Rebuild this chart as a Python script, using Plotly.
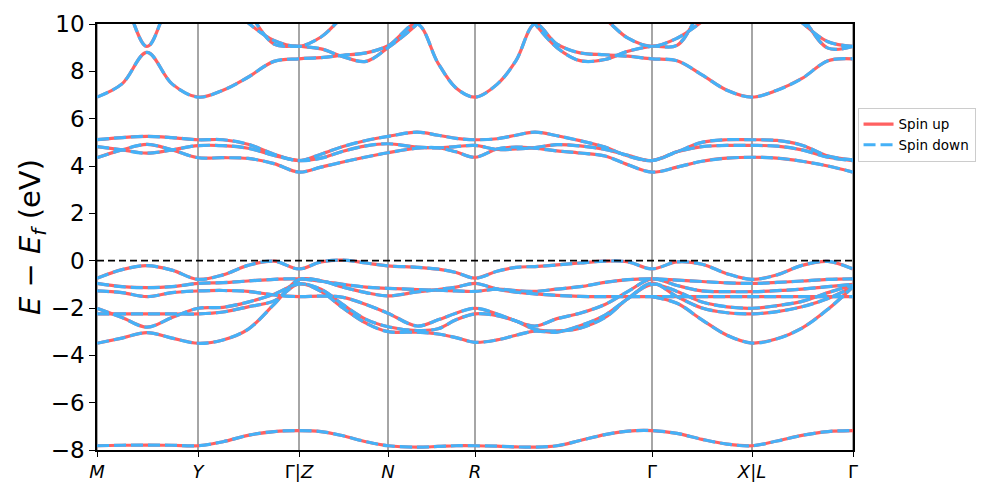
import plotly.graph_objects as go

# path positions (k-distance) of the sample points along M-Y-Γ|Z-N-R-Γ-X|L-Γ
k = [0.0, 0.25, 0.5, 0.75, 1.01,
     1.26, 1.51, 1.77, 2.02,
     2.24, 2.46, 2.69, 2.91,
     3.2, 3.41, 3.59, 3.78,
     4.0, 4.19, 4.38, 4.6, 4.83, 5.08, 5.31, 5.55,
     5.8, 6.05, 6.3, 6.55,
     6.8, 7.05, 7.31, 7.56]

kpoint_pos = [0.0, 1.01, 2.02, 2.91, 3.78, 5.55, 6.55, 7.56]
kpoint_labels = ["<i>M</i>", "<i>Y</i>", "Γ|<i>Z</i>", "<i>N</i>", "<i>R</i>",
                 "Γ", "<i>X</i>|<i>L</i>", "Γ"]

# band energies (eV)
band_deep = [-7.82, -7.8, -7.79, -7.8, -7.82, -7.65, -7.38, -7.22, -7.18,
             -7.22, -7.4, -7.65, -7.82, -7.88, -7.85, -7.82, -7.82,
             -7.84, -7.87, -7.88, -7.82, -7.6, -7.35, -7.2, -7.18,
             -7.3, -7.55, -7.75, -7.82, -7.62, -7.38, -7.22, -7.18]
band_v1 = [-0.74, -0.38, -0.21, -0.4, -0.79, -0.6, -0.2, -0.02, -0.35,
           -0.05, 0.02, -0.1, -0.22, -0.28, -0.36, -0.5, -0.74,
           -0.45, -0.28, -0.25, -0.18, -0.1, -0.02, -0.05, -0.35,
           -0.05, -0.15, -0.55, -0.79, -0.6, -0.2, -0.03, -0.35]
band_v2 = [-0.96, -1.1, -1.14, -1.1, -0.96, -0.93, -0.86, -0.79, -0.77,
           -0.87, -1.0, -1.12, -1.17, -1.22, -1.25, -1.28, -1.3,
           -1.2, -1.27, -1.3, -1.2, -1.1, -0.92, -0.8, -0.77,
           -0.82, -0.88, -0.94, -0.96, -0.92, -0.86, -0.79, -0.77]
band_v3 = [-3.49, -3.27, -3.04, -3.27, -3.49, -3.35, -2.9, -1.85, -0.8,
           -0.85, -1.12, -1.35, -1.49, -1.32, -1.22, -1.12, -0.96,
           -1.2, -1.33, -1.4, -1.47, -1.51, -1.52, -1.52, -1.52,
           -1.52, -1.52, -1.52, -1.52, -1.52, -1.52, -1.52, -1.52]
band_v4 = [-2.01, -2.4, -2.81, -2.4, -2.01, -1.97, -1.75, -1.42, -0.98,
           -1.21, -1.86, -2.48, -2.79, -2.95, -2.88, -2.5, -2.25,
           -2.32, -2.55, -2.9, -2.97, -2.85, -2.4, -1.6, -1.0,
           -1.3, -1.75, -1.95, -2.01, -1.9, -1.72, -1.35, -1.03]
band_v5 = [-2.25, -2.25, -2.25, -2.25, -2.25, -2.17, -1.95, -1.7, -0.98,
           -1.3, -2.0, -2.64, -3.0, -3.02, -3.1, -3.25, -3.45,
           -3.35, -3.15, -2.98, -3.02, -2.75, -2.3, -1.6, -0.95,
           -1.52, -2.0, -2.2, -2.25, -2.15, -1.95, -1.6, -1.1]
band_v6 = [-1.28, -1.35, -1.52, -1.35, -1.28, -1.26, -1.3, -1.45, -1.52,
           -1.5, -1.55, -1.85, -2.22, -2.76, -2.5, -2.22, -2.01,
           -2.25, -2.55, -2.76, -2.45, -2.22, -1.85, -1.3, -0.77,
           -1.05, -1.28, -1.31, -1.31, -1.27, -1.2, -1.1, -1.0]
band_v7 = [None] * 24 + [-1.52, -1.8, -2.5, -3.15, -3.48, -3.3, -2.85, -2.05, -1.1]

band_c1 = [4.35, 4.68, 4.91, 4.68, 4.35, 4.35, 4.32, 4.1, 3.74,
           3.95, 4.17, 4.38, 4.56, 4.75, 4.77, 4.6, 4.37,
           4.72, 4.8, 4.75, 4.64, 4.55, 4.42, 4.05, 3.74,
           3.95, 4.2, 4.33, 4.37, 4.33, 4.2, 4.0, 3.74]
band_c2 = [4.82, 4.68, 4.54, 4.68, 4.86, 4.86, 4.75, 4.45, 4.23,
           4.33, 4.62, 4.85, 4.94, 4.8, 4.77, 4.82, 4.87,
           4.7, 4.72, 4.78, 4.9, 4.85, 4.7, 4.45, 4.23,
           4.6, 4.82, 4.87, 4.87, 4.84, 4.68, 4.37, 4.23]
band_c3 = [5.11, 5.2, 5.25, 5.2, 5.11, 5.11, 4.92, 4.5, 4.23,
           4.5, 4.82, 5.08, 5.25, 5.43, 5.3, 5.17, 5.11,
           5.15, 5.3, 5.43, 5.28, 5.07, 4.8, 4.42, 4.23,
           4.6, 5.0, 5.11, 5.11, 5.08, 4.88, 4.42, 4.26]
band_c4 = [6.91, 7.47, 8.8, 7.47, 6.91, 7.2, 7.75, 8.42, 8.53,
           8.58, 8.68, 8.78, 9.08, 10.0, 8.35, 7.3, 6.91,
           7.45, 8.45, 10.0, 9.15, 8.78, 8.7, 8.64, 8.53,
           8.45, 7.85, 7.2, 6.91, 7.2, 7.7, 8.45, 8.53]
band_c5 = [11.5, 11.0, 9.05, 11.0, 11.5, 11.0, 10.05, 9.3, 9.06,
           9.45, 10.3, 11.0, 11.5, 12.0, 12.0, 12.0, 12.0,
           12.0, 12.0, 11.5, 11.0, 10.8, 10.2, 9.4, 9.06,
           9.4, 10.1, 11.0, 11.5, 11.0, 10.05, 9.25, 9.06]
band_c6 = [12.0, 12.0, 12.0, 12.0, 12.0, 11.5, 10.5, 9.15, 9.06,
           8.95, 8.62, 8.42, 9.0, 10.0, 11.0, 11.5, 12.0,
           11.5, 11.0, 10.0, 9.0, 8.45, 8.5, 8.85, 9.06,
           9.1, 10.6, 11.5, 12.0, 11.5, 10.3, 8.98, 9.06]

bands = [band_deep, band_v1, band_v2, band_v3, band_v4, band_v5, band_v6, band_v7,
         band_c1, band_c2, band_c3, band_c4, band_c5, band_c6]

fig = go.Figure()

for x in kpoint_pos:
    fig.add_vline(x=x, line=dict(color="#888888", width=1.5), layer="below")

spins = [("Spin up", "#ff6161", "solid"), ("Spin down", "#45b1f7", "12px,5px")]
for name, color, dash in spins:
    for i, b in enumerate(bands):
        fig.add_scatter(x=k, y=b, mode="lines", name=name, legendgroup=name,
                        showlegend=(i == 0), hoverinfo="skip",
                        line=dict(color=color, width=3.2, dash=dash,
                                  shape="spline", smoothing=1))

fig.add_hline(y=0, line=dict(color="black", width=1.8, dash="7px,4px"))

# the page body adds an 8px offset, so the figure is a little smaller
fig.update_layout(
    width=989, height=490,
    margin=dict(l=89, r=144, t=16, b=48),
    paper_bgcolor="white", plot_bgcolor="white",
    font=dict(family="DejaVu Sans", color="black"),
    legend=dict(x=1.006, y=0.803, xanchor="left", yanchor="top",
                bgcolor="white", bordercolor="#cccccc", borderwidth=1,
                tracegroupgap=0, font=dict(size=13.5)),
)
fig.update_xaxes(range=[0, 7.56], tickvals=kpoint_pos, ticktext=kpoint_labels,
                 showgrid=False, zeroline=False, showline=True, linecolor="black",
                 linewidth=1.5, mirror=True, ticks="outside", ticklen=5,
                 tickcolor="black", tickfont=dict(size=18), automargin=False)
fig.update_yaxes(range=[-8, 10], dtick=2, showgrid=False, zeroline=False,
                 showline=True, linecolor="black", linewidth=1.5, mirror=True,
                 ticks="outside", ticklen=6, tickcolor="black",
                 tickfont=dict(size=23), automargin=False,
                 title=dict(text="<i>E</i> − <i>E</i><sub><i>f</i></sub> (eV)",
                            font=dict(size=29), standoff=2))

fig.write_html("out.html")
